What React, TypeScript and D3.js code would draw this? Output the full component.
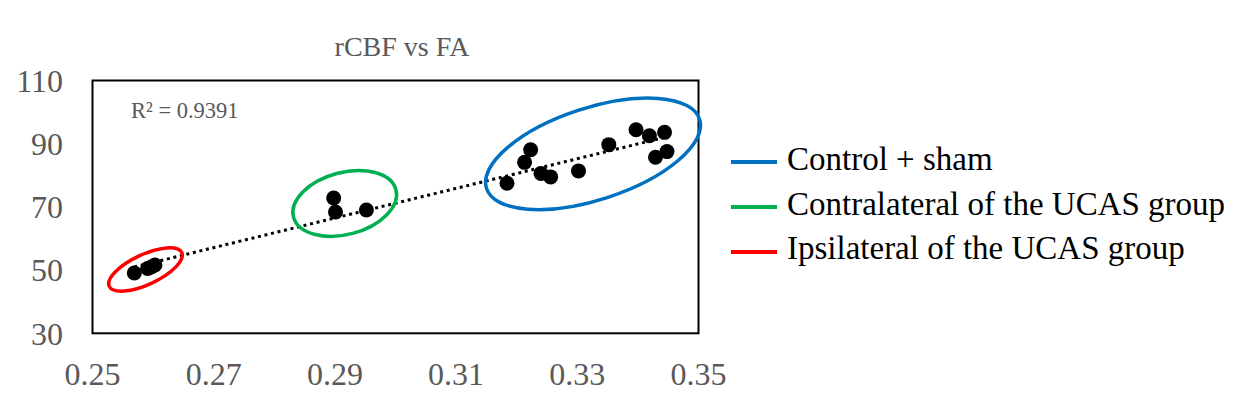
import React from "react";
import * as d3 from "d3";

const W = 1252;
const H = 402;

// FA (x) vs rCBF (y)
const redFA = [0.2569, 0.2591, 0.2597, 0.2603];
const redCBF = [49.1, 50.5, 51.0, 51.6];
const greenFA = [0.2898, 0.2901, 0.2952];
const greenCBF = [72.8, 68.4, 69.0];
const blueFA = [0.3184, 0.3213, 0.3223, 0.3240, 0.3256, 0.3302, 0.3352, 0.3397, 0.3419, 0.3444, 0.3429, 0.3448];
const blueCBF = [77.5, 84.1, 88.1, 80.6, 79.5, 81.4, 89.7, 94.4, 92.5, 93.6, 85.7, 87.5];

const xTicks = [0.25, 0.27, 0.29, 0.31, 0.33, 0.35];
const yTicks = [30, 50, 70, 90, 110];
const legendLabels = ["Control + sham", "Contralateral of the UCAS group", "Ipsilateral of the UCAS group"];
const legendColors = ["#0070C0", "#00B050", "#FF0000"];
const titleText = "rCBF vs FA";
const r2Text = "R² = 0.9391";

// ellipse annotations: centre in data units, radii in px, rotation in degrees
const ellipses = [
  { fa: 0.25875, cbf: 50.2, a: 40, b: 15, rot: -25, color: "#FF0000" },
  { fa: 0.29162, cbf: 71.1, a: 53, b: 31, rot: -15, color: "#00B050" },
  { fa: 0.3326, cbf: 86.8, a: 112, b: 46, rot: -18, color: "#0070C0" },
];

export default function App() {
  const left = 92.5, right = 698.5, top = 80.5, bottom = 333.3;
  const x = d3.scaleLinear().domain([0.25, 0.35]).range([left, right]);
  const y = d3.scaleLinear().domain([30, 110]).range([bottom, top]);

  const allFA = [...redFA, ...greenFA, ...blueFA];
  const allCBF = [...redCBF, ...greenCBF, ...blueCBF];
  const pts = allFA.map((v, i) => [v, allCBF[i]] as [number, number]);

  const mx = d3.mean(allFA)!;
  const my = d3.mean(allCBF)!;
  let sxy = 0, sxx = 0;
  pts.forEach(([a, b]) => { sxy += (a - mx) * (b - my); sxx += (a - mx) * (a - mx); });
  const slope = sxy / sxx;
  const icpt = my - slope * mx;
  const [x0, x1] = d3.extent(allFA) as [number, number];
  const line = d3.line<number>().x((d) => x(d)).y((d) => y(slope * d + icpt));

  const serif = "'Liberation Serif', 'Times New Roman', serif";
  const gray = "#595959";

  return (
    <svg width={W} height={H} style={{ position: "absolute", left: 0, top: 0 }} fontFamily={serif}>
      <rect x={0} y={0} width={W} height={H} fill="#fff" />
      <text x={402} y={56} textAnchor="middle" fontSize={28} fill={gray}>{titleText}</text>
      <rect x={left} y={top} width={right - left} height={bottom - top} fill="none" stroke="#000" strokeWidth={2} />
      {yTicks.map((t) => (
        <text key={t} x={63} y={y(t)} dy="0.35em" textAnchor="end" fontSize={32} fill={gray}>{t}</text>
      ))}
      {xTicks.map((t) => (
        <text key={t} x={x(t)} y={385} textAnchor="middle" fontSize={32} fill={gray}>{t.toFixed(2)}</text>
      ))}
      <text x={131} y={118} fontSize={22.5} fill={gray}>{r2Text}</text>
      <path d={line([x0, x1]) || ""} fill="none" stroke="#000" strokeWidth={3} strokeDasharray="3 3.7" />
      {pts.map(([a, b], i) => (
        <circle key={i} cx={x(a)} cy={y(b)} r={7.5} fill="#000" />
      ))}
      {ellipses.map((e, i) => (
        <ellipse key={i} cx={x(e.fa)} cy={y(e.cbf)} rx={e.a} ry={e.b}
          transform={`rotate(${e.rot} ${x(e.fa)} ${y(e.cbf)})`}
          fill="none" stroke={e.color} strokeWidth={3.5} />
      ))}
      {legendLabels.map((l, i) => (
        <g key={l}>
          <line x1={731} x2={777} y1={162 + i * 45} y2={162 + i * 45} stroke={legendColors[i]} strokeWidth={4} />
          <text x={787} y={170 + i * 44.5} fontSize={33} fill="#000">{l}</text>
        </g>
      ))}
    </svg>
  );
}
